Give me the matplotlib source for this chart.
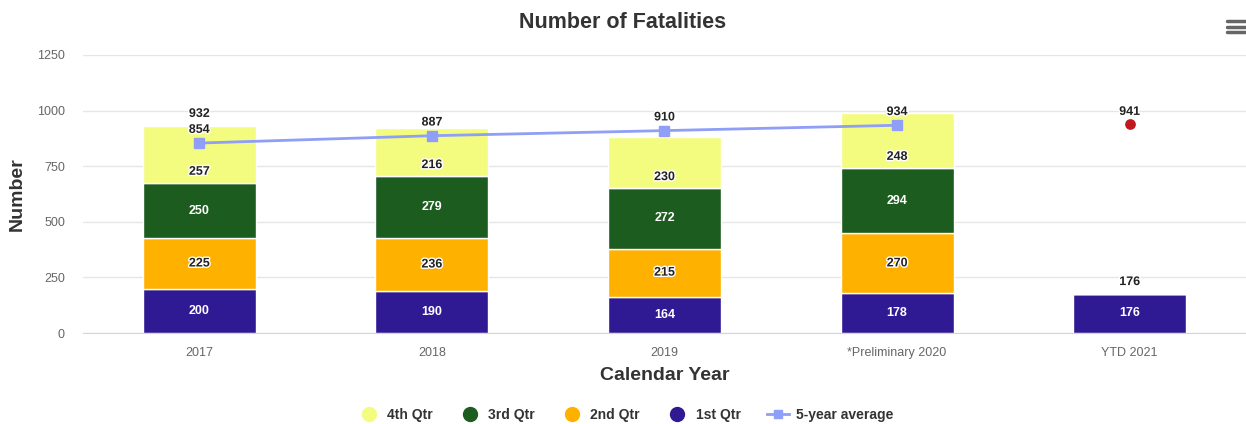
import matplotlib.pyplot as plt
import matplotlib.patheffects as pe
from matplotlib.lines import Line2D
import numpy as np

plt.rcParams['font.family'] = ['Liberation Sans', 'DejaVu Sans']

# data
years = ['2017', '2018', '2019', '*Preliminary 2020', 'YTD 2021']
q1 = [200, 190, 164, 178, 176]
q2 = [225, 236, 215, 270, 0]
q3 = [250, 279, 272, 294, 0]
q4 = [257, 216, 230, 248, 0]
avg5 = [854, 887, 910, 934]
ytd_projection = 941
totals_shown = [932, None, None, None, 176]  # stack totals that appear on the chart

colors = {'4th Qtr': '#f4fc80', '3rd Qtr': '#1d5c1f', '2nd Qtr': '#ffb100', '1st Qtr': '#301a94'}
text_dark = '#222222'

fig = plt.figure(figsize=(12.46, 4.24), dpi=100)
ax = fig.add_axes([0.0666, 0.2146, 0.9334, 0.6557])

x = np.arange(len(years))
w = 0.485
series = [('1st Qtr', q1), ('2nd Qtr', q2), ('3rd Qtr', q3), ('4th Qtr', q4)]
bottom = np.zeros(len(years))
outline = [pe.withStroke(linewidth=2, foreground='white')]
lbl = dict(fontsize=9, fontweight='bold', ha='center', va='center', zorder=5)
for name, vals in series:
    vals = np.array(vals, dtype=float)
    ax.bar(x, vals, w, bottom=bottom, color=colors[name], edgecolor='white', linewidth=1, zorder=2)
    dark = name in ('1st Qtr', '3rd Qtr')
    for i, v in enumerate(vals):
        if v <= 0:
            continue
        if name == '4th Qtr':
            # highcharts pushed these down to the lower part of the segment
            ax.annotate(f'{int(v)}', (x[i], bottom[i]), xytext=(0, 8), textcoords='offset points',
                        color=text_dark, path_effects=outline, **lbl)
        else:
            ax.text(x[i], bottom[i] + v / 2, f'{int(v)}',
                    color='white' if dark else text_dark,
                    path_effects=None if dark else outline, **lbl)
    bottom += vals

# stack totals
for i, t in enumerate(totals_shown):
    if t is not None:
        ax.annotate(str(t), (x[i], bottom[i]), xytext=(0, 8.5), textcoords='offset points',
                    color=text_dark, path_effects=outline, **lbl)

# 5-year average
ax.plot(x[:len(avg5)], avg5, color='#8f9ef6', linewidth=2, marker='s', markersize=7, zorder=4)
for i, v in enumerate(avg5):
    ax.annotate(str(v), (x[i], v), xytext=(0, 9.5), textcoords='offset points',
                color=text_dark, path_effects=outline, **lbl)

# YTD projection point
ax.scatter([x[4]], [ytd_projection], s=45, color='#c1191f', zorder=4)
ax.annotate(str(ytd_projection), (x[4], ytd_projection), xytext=(0, 8.5), textcoords='offset points',
            color=text_dark, path_effects=outline, **lbl)

ax.set_xlim(-0.5, 4.5)
ax.set_ylim(0, 1250)
ax.set_yticks([0, 250, 500, 750, 1000, 1250])
ax.set_xticks(x)
ax.set_xticklabels(years)
ax.grid(axis='y', color='#e6e6e6', linewidth=1, zorder=0)
ax.set_axisbelow(True)
for s in ['top', 'right', 'left']:
    ax.spines[s].set_visible(False)
ax.spines['bottom'].set_color('#ccd6eb')
ax.tick_params(axis='y', length=0, labelsize=9, labelcolor='#666666', pad=13)
ax.tick_params(axis='x', length=0, labelsize=9, labelcolor='#666666', pad=10)

ax.set_xlabel('Calendar Year', fontsize=14, fontweight='bold', color='#333333', labelpad=6)
ax.set_ylabel('Number', fontsize=14, fontweight='bold', color='#333333', labelpad=8)
fig.text(0.5, 0.947, 'Number of Fatalities', ha='center', va='center', fontsize=15.5,
         fontweight='bold', color='#333333')

# legend
handles = [Line2D([], [], marker='o', linestyle='', markersize=10, color=colors[n]) for n in
           ['4th Qtr', '3rd Qtr', '2nd Qtr', '1st Qtr']]
handles.append(Line2D([], [], marker='s', color='#8f9ef6', linewidth=2, markersize=6))
labels = ['4th Qtr', '3rd Qtr', '2nd Qtr', '1st Qtr', '5-year average']
leg = fig.legend(handles, labels, loc='center', bbox_to_anchor=(0.502, 0.022), ncol=5,
                 frameon=False, fontsize=10, handlelength=1.6, handletextpad=0.5, columnspacing=1.9)
for t in leg.get_texts():
    t.set_fontweight('bold')
    t.set_color('#333333')

# menu icon
for yy in (0.924, 0.937, 0.950):
    fig.add_artist(Line2D([0.9845, 0.9995], [yy, yy], color='#666666', linewidth=2.5,
                          solid_capstyle='round'))

fig.savefig('out.png', dpi=100)
